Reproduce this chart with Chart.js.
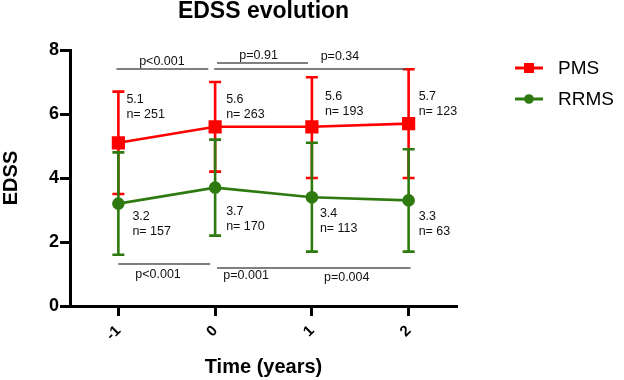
<!DOCTYPE html>
<html>
<head>
<meta charset="utf-8">
<script src="https://cdn.jsdelivr.net/npm/chart.js@4"></script>
<style>
  body { margin: 0; background: #fff; }
  #wrap { width: 624px; height: 380px; }
</style>
</head>
<body>
<div id="wrap"><canvas id="edssChart"></canvas></div>
<script>
const years = [-1, 0, 1, 2];
const yTicks = [0, 2, 4, 6, 8];

const pmsMean = [5.1, 5.6, 5.6, 5.7];
const pmsUpper = [6.7, 7.0, 7.15, 7.4];
const pmsLower = [3.5, 4.2, 4.0, 4.0];
const pmsN = [251, 263, 193, 123];

const rrmsMean = [3.2, 3.7, 3.4, 3.3];
const rrmsUpper = [4.8, 5.2, 5.1, 4.9];
const rrmsLower = [1.6, 2.2, 1.7, 1.7];
const rrmsN = [157, 170, 113, 63];

const pTop = ['p<0.001', 'p=0.91', 'p=0.34'];
const pBottom = ['p<0.001', 'p=0.001', 'p=0.004'];

const RED = '#ff0000';
const GREEN = '#2e7a10';
const FONT = "'Liberation Sans', Arial, sans-serif";

// where the brackets and their p texts sit (x in years, y in EDSS units)
const brackets = [
  { from: -1.02, to: -0.07, y: 7.41, text: pTop[0], tx: -0.55, ty: 7.63 },
  { from: 0.02, to: 0.96, y: 7.59, text: pTop[1], tx: 0.45, ty: 7.84 },
  { from: -0.01, to: 1.97, y: 7.41, text: pTop[2], tx: 1.29, ty: 7.81 },
  { from: -1.0, to: -0.05, y: 1.31, text: pBottom[0], tx: -0.59, ty: 0.97 },
  { from: 0.02, to: 2.02, y: 1.19, text: pBottom[1], tx: 0.32, ty: 0.94 },
  { from: null, to: null, y: null, text: pBottom[2], tx: 1.36, ty: 0.88 },
];

// value label placement: first line y (EDSS units) and x offset in px
const pmsLabelY = [6.45, 6.45, 6.55, 6.55];
const pmsLabelDx = [8, 11, 13, 10];
const rrmsLabelY = [2.78, 2.94, 2.9, 2.78];
const rrmsLabelDx = [14, 11, 8, 10];

const errors = [
  { upper: pmsUpper, lower: pmsLower },
  { upper: rrmsUpper, lower: rrmsLower },
];

const errorBars = {
  id: 'errorBars',
  beforeDatasetDraw(chart, args) {
    const err = errors[args.index];
    const ds = chart.data.datasets[args.index];
    const { ctx, scales: { x, y } } = chart;
    ctx.save();
    ctx.strokeStyle = ds.borderColor;
    ctx.lineWidth = 2.6;
    ds.data.forEach((pt, i) => {
      const px = x.getPixelForValue(pt.x);
      const top = y.getPixelForValue(err.upper[i]);
      const bot = y.getPixelForValue(err.lower[i]);
      ctx.beginPath();
      ctx.moveTo(px, top);
      ctx.lineTo(px, bot);
      ctx.moveTo(px - 6, top);
      ctx.lineTo(px + 6, top);
      ctx.moveTo(px - 6, bot);
      ctx.lineTo(px + 6, bot);
      ctx.stroke();
    });
    ctx.restore();
  },
};

const extras = {
  id: 'extras',
  afterDatasetsDraw(chart) {
    const { ctx, scales: { x, y } } = chart;
    ctx.save();

    // significance brackets
    ctx.strokeStyle = '#555';
    ctx.lineWidth = 1.5;
    ctx.fillStyle = '#111';
    ctx.font = `12.5px ${FONT}`;
    ctx.textAlign = 'center';
    ctx.textBaseline = 'middle';
    brackets.forEach(b => {
      if (b.from !== null) {
        const py = y.getPixelForValue(b.y);
        ctx.beginPath();
        ctx.moveTo(x.getPixelForValue(b.from), py);
        ctx.lineTo(x.getPixelForValue(b.to), py);
        ctx.stroke();
      }
      ctx.fillText(b.text, x.getPixelForValue(b.tx), y.getPixelForValue(b.ty));
    });

    // value labels
    ctx.textAlign = 'left';
    const drawLabels = (mean, n, ly, dx) => {
      years.forEach((yr, i) => {
        const px = x.getPixelForValue(yr) + dx[i];
        const py = y.getPixelForValue(ly[i]);
        ctx.fillText(mean[i].toFixed(1), px, py);
        ctx.fillText('n= ' + n[i], px, py + 15);
      });
    };
    drawLabels(pmsMean, pmsN, pmsLabelY, pmsLabelDx);
    drawLabels(rrmsMean, rrmsN, rrmsLabelY, rrmsLabelDx);

    // legend
    const items = [
      { label: 'PMS', color: RED, shape: 'rect', y: 68 },
      { label: 'RRMS', color: GREEN, shape: 'circle', y: 99 },
    ];
    items.forEach(it => {
      ctx.strokeStyle = it.color;
      ctx.fillStyle = it.color;
      ctx.lineWidth = 3;
      ctx.beginPath();
      ctx.moveTo(515, it.y);
      ctx.lineTo(543, it.y);
      ctx.stroke();
      if (it.shape === 'rect') {
        ctx.fillRect(524, it.y - 5, 10, 10);
      } else {
        ctx.beginPath();
        ctx.arc(529, it.y, 4.8, 0, Math.PI * 2);
        ctx.fill();
      }
      ctx.fillStyle = '#000';
      ctx.font = `19px ${FONT}`;
      ctx.fillText(it.label, 558, it.y + 1);
    });

    ctx.restore();
  },
};

const ctx = document.getElementById('edssChart');

const edssChart = new Chart(ctx, {
  type: 'line',
  data: {
    datasets: [
      {
        label: 'PMS',
        data: years.map((yr, i) => ({ x: yr, y: pmsMean[i] })),
        borderColor: RED,
        backgroundColor: RED,
        borderWidth: 2.6,
        pointStyle: 'rect',
        pointRadius: 7.5,
        pointHoverRadius: 7.5,
        order: 1,
      },
      {
        label: 'RRMS',
        data: years.map((yr, i) => ({ x: yr, y: rrmsMean[i] })),
        borderColor: GREEN,
        backgroundColor: GREEN,
        borderWidth: 2.6,
        pointStyle: 'circle',
        pointRadius: 5,
        pointHoverRadius: 5,
        order: 0,
      },
    ],
  },
  options: {
    responsive: true,
    maintainAspectRatio: false,
    animation: false,
    layout: {
      padding: { top: 0, right: 167, bottom: 0, left: 0 },
    },
    scales: {
      x: {
        type: 'linear',
        min: -1.5,
        max: 2.5,
        afterBuildTicks: (scale) => {
          scale.ticks = years.map(v => ({ value: v }));
        },
        afterFit: (scale) => {
          scale.height = 74;
        },
        border: { color: '#000', width: 3 },
        grid: {
          drawOnChartArea: false,
          drawTicks: true,
          tickLength: 10,
          tickWidth: 3,
          tickColor: '#000',
        },
        ticks: {
          color: '#000',
          font: { family: FONT, size: 15, weight: 'bold' },
          minRotation: 45,
          maxRotation: 45,
          padding: 6,
          callback: (v) => String(v),
        },
        title: {
          display: true,
          text: 'Time (years)',
          color: '#000',
          font: { family: FONT, size: 20, weight: 'bold', lineHeight: 1 },
          padding: { top: 0, bottom: 3 },
        },
      },
      y: {
        min: 0,
        max: 8,
        afterBuildTicks: (scale) => {
          scale.ticks = yTicks.map(v => ({ value: v }));
        },
        afterFit: (scale) => {
          scale.width = 70;
        },
        border: { color: '#000', width: 3 },
        grid: {
          drawOnChartArea: false,
          drawTicks: true,
          tickLength: 10,
          tickWidth: 3,
          tickColor: '#000',
        },
        ticks: {
          color: '#000',
          font: { family: FONT, size: 18, weight: 'bold' },
          padding: 1,
        },
        title: {
          display: true,
          text: 'EDSS',
          color: '#000',
          font: { family: FONT, size: 20, weight: 'bold', lineHeight: 1 },
          padding: { top: 1, bottom: 0 },
        },
      },
    },
    plugins: {
      legend: { display: false },
      tooltip: { enabled: false },
      title: {
        display: true,
        text: 'EDSS evolution',
        color: '#000',
        fullSize: false,
        font: { family: FONT, size: 23, weight: 'bold', lineHeight: 1 },
        padding: { top: 0, bottom: 27 },
      },
    },
  },
  plugins: [errorBars, extras],
});
</script>
</body>
</html>
